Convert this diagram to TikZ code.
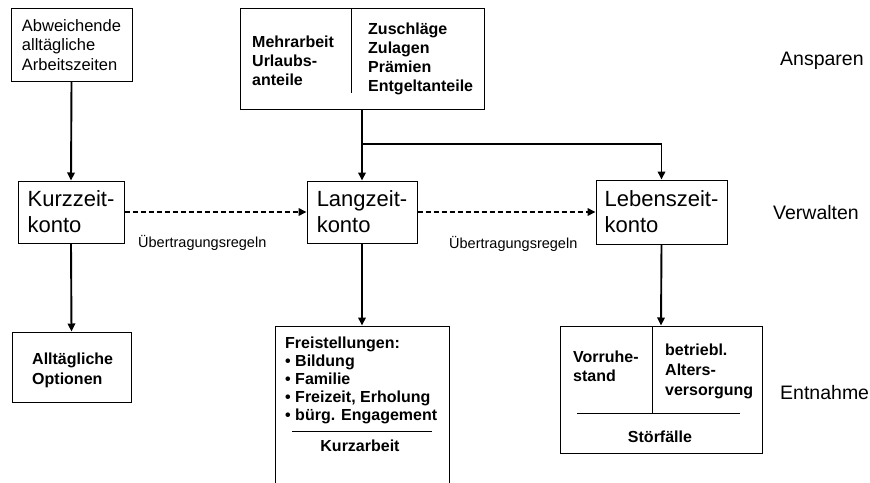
\documentclass[tikz,border=0pt]{standalone}
\usepackage{fontspec}
\setmainfont{Liberation Sans}
\usetikzlibrary{arrows.meta}
\begin{document}
\begin{tikzpicture}[x=1pt,y=-1pt,
  box/.style={draw,line width=1pt,inner sep=0pt},
  conn/.style={line width=1.9pt,-{Triangle[length=8pt,width=7.5pt]}},
  dconn/.style={line width=1.9pt,dash pattern=on 5pt off 3pt,-{Triangle[length=8pt,width=7.5pt]}},
  txt/.style={inner sep=0pt,anchor=west,align=left},
  bigf/.style={font=\fontsize{22}{26}\selectfont},
  smallf/.style={font=\fontsize{16.5}{19.5}\selectfont},
  boldf/.style={font=\fontsize{16}{19}\selectfont\bfseries},
  sidef/.style={font=\fontsize{19.5}{23}\selectfont},
  rulef/.style={font=\fontsize{14.5}{17}\selectfont}]
\useasboundingbox (0,0) rectangle (870,482);
% boxes
\node[box,smallf,align=left,minimum width=121pt,minimum height=73pt] (a) at (71.5,45) {Abweichende\\alltägliche\\Arbeitszeiten};
\node[box,minimum width=244pt,minimum height=101pt] (b) at (362,58.5) {};
\node[box,bigf,align=left,minimum width=106pt,minimum height=62pt] (k) at (71,212) {Kurzzeit-\\konto};
\node[box,bigf,align=left,minimum width=110pt,minimum height=62pt] (l) at (362,212) {Langzeit-\\konto};
\node[box,bigf,align=left,minimum width=131pt,minimum height=64pt] (z) at (661.5,212) {Lebenszeit-\\konto};
\node[box,minimum width=119pt,minimum height=70pt] (o) at (71.5,367) {};
\node[box,minimum width=174pt,minimum height=164pt] (f) at (362,408) {};
\node[box,minimum width=202pt,minimum height=127pt] (v) at (661,389.5) {};
% inner texts
\node[txt,boldf] (bl) at (252,61) {Mehrarbeit\\Urlaubs-\\anteile};
\node[txt,boldf] (br) at (368,59) {Zuschläge\\Zulagen\\Prämien\\Entgeltanteile};
\draw[line width=1pt] (351,8) -- (351,93);
\node[txt,boldf,font=\fontsize{16}{20}\selectfont\bfseries] (ot) at (32,370) {Alltägliche\\Optionen};
\node[txt,boldf,font=\fontsize{16}{18}\selectfont\bfseries] (ft) at (285,380) {Freistellungen:\\• Bildung\\• Familie\\• Freizeit, Erholung\\• bürg. Engagement};
\draw[line width=1pt] (292,431) -- (432,431);
\node[inner sep=0pt,boldf] (ka) at (360,446) {Kurzarbeit};
\node[txt,boldf] (vl) at (573,366) {Vorruhe-\\stand};
\node[txt,boldf,font=\fontsize{16}{20}\selectfont\bfseries] (vr) at (665,371) {betriebl.\\Alters-\\versorgung};
\draw[line width=1pt] (652,326) -- (652,413);
\draw[line width=1pt] (577,413) -- (740,413);
\node[inner sep=0pt,boldf] (st) at (660,437) {Störfälle};
% side labels
\node[txt,sidef] (s1) at (780,61) {Ansparen};
\node[txt,sidef] (s2) at (773,213) {Verwalten};
\node[txt,sidef] (s3) at (780,393) {Entnahme};
% rule labels
\node[txt,rulef] (r1) at (138,243) {Übertragungsregeln};
\node[txt,rulef] (r2) at (449,244) {Übertragungsregeln};
% connectors
\coordinate (j) at (362,144);
\draw[conn] (a.south) -- (k.north);
\draw[conn] (b.south) -- (l.north);
\draw[conn] (j) -| (z.north);
\draw[dconn] (k.east) -- (l.west);
\draw[dconn] (l.east) -- (z.west);
\draw[conn] (k.south) -- (o.north);
\draw[conn] (l.south) -- (f.north);
\draw[conn] (z.south) -- (v.north);
\end{tikzpicture}
\end{document}
